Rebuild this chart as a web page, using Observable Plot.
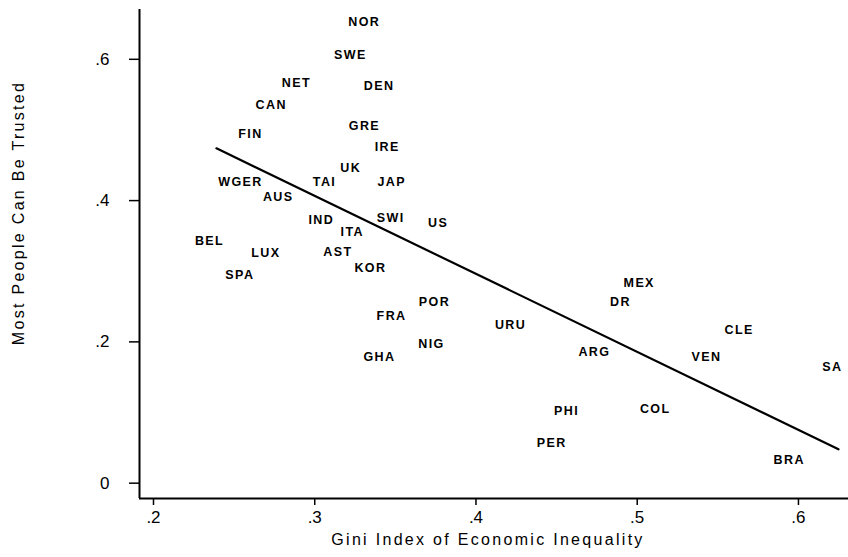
<!DOCTYPE html>
<html><head><meta charset="utf-8">
<script src="https://cdn.jsdelivr.net/npm/d3@7"></script>
<script src="https://cdn.jsdelivr.net/npm/@observablehq/plot@0.6"></script>
<style>
body{margin:0;background:#fff}
svg{display:block}
g[aria-label="text"] text{letter-spacing:1.4px}
.ttl{letter-spacing:2.3px}
</style>
</head><body><div id="chart"></div>
<script>
const countries = ["NOR","SWE","NET","DEN","CAN","GRE","IRE","UK","TAI","JAP","FIN","WGER","AUS","BEL","LUX","SPA","IND","ITA","SWI","US","AST","KOR","POR","FRA","URU","NIG","GHA","PHI","PER","MEX","DR","CLE","ARG","VEN","SA","COL","BRA"];
const gini = [0.3295,0.3209,0.2874,0.3387,0.2718,0.3296,0.3437,0.3211,0.3048,0.3465,0.2589,0.2527,0.2761,0.2335,0.2684,0.2523,0.3028,0.3220,0.3459,0.3753,0.3131,0.3333,0.3730,0.3464,0.4202,0.3712,0.3389,0.4549,0.4458,0.5000,0.4884,0.5620,0.4722,0.5417,0.6198,0.5099,0.5930];
const trust = [0.653,0.606,0.566,0.562,0.536,0.506,0.476,0.446,0.4265,0.4265,0.4936,0.426,0.405,0.343,0.3265,0.2944,0.3723,0.3557,0.3747,0.3676,0.3274,0.3047,0.2558,0.2364,0.2246,0.1963,0.1788,0.1019,0.057,0.284,0.2562,0.2166,0.185,0.1788,0.1646,0.1043,0.0335];
const fitGini = [0.2378, 0.6236];
const fitTrust = [0.474, 0.048];
const xTicks = [0.2, 0.3, 0.4, 0.5, 0.6];
const yTicks = [0, 0.2, 0.4, 0.6];
const xTitle = "Gini Index of Economic Inequality";
const yTitle = "Most People Can Be Trusted";

const points = countries.map((c, i) => ({c, x: gini[i], y: trust[i]}));
const fit = fitGini.map((x, i) => ({x, y: fitTrust[i]}));
const fmt = d => d === 0 ? "0" : d3.format(".1f")(d).replace(/^0/, "");
const xDom = [0.19008, 0.6298];
const yDom = [-0.0217, 0.6705];

const chart = Plot.plot({
  width: 848, height: 557,
  marginLeft: 139, marginRight: 0, marginTop: 9, marginBottom: 59,
  style: {fontFamily: "'Liberation Sans', Arial, sans-serif", fontSize: "17px", color: "black", background: "white", overflow: "visible"},
  x: {domain: xDom},
  y: {domain: yDom},
  marks: [
    Plot.axisX(xTicks, {tickSize: 7, tickPadding: 5, tickFormat: fmt, fontSize: 17, label: null, strokeWidth: 1.5, dx: -2}),
    Plot.axisY(yTicks, {tickSize: 10, tickPadding: 20, tickFormat: fmt, fontSize: 17, label: null, strokeWidth: 1.5}),
    Plot.ruleX([xDom[0]], {strokeWidth: 2}),
    Plot.ruleY([yDom[0]], {strokeWidth: 2}),
    Plot.line(fit, {x: "x", y: "y", stroke: "black", strokeWidth: 2.2}),
    Plot.text(points, {x: "x", y: "y", text: "c", fontSize: 12.5, fontWeight: "bold", fill: "black"})
  ]
});

const svg = d3.select(chart);
svg.append("text").attr("class", "ttl")
  .attr("x", 488).attr("y", 541)
  .attr("text-anchor", "middle").attr("dominant-baseline", "middle")
  .attr("font-size", 16).attr("fill", "black").text(xTitle);
svg.append("text").attr("class", "ttl")
  .attr("transform", "translate(20,213) rotate(-90)")
  .attr("text-anchor", "middle").attr("dominant-baseline", "middle")
  .attr("font-size", 16).attr("fill", "black").text(yTitle);

document.getElementById("chart").append(chart);
</script>
</body></html>
